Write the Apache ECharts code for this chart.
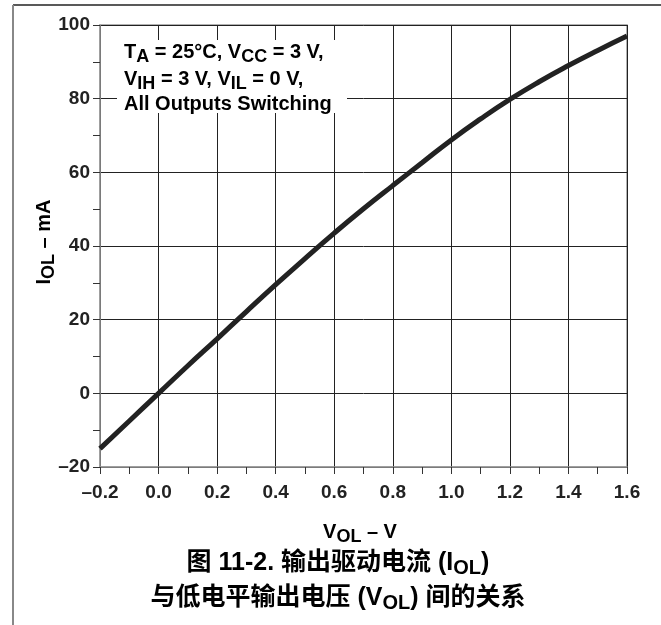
<!DOCTYPE html>
<html>
<head>
<meta charset="utf-8">
<script src="https://cdn.jsdelivr.net/npm/echarts@6/dist/echarts.min.js"></script>
<style>
html,body{margin:0;padding:0;background:#fff;}
#chart{width:661px;height:625px;}
</style>
</head>
<body>
<div id="chart"></div>
<script>
// Data
const vol = [-0.2, -0.1, 0.0, 0.1, 0.2, 0.3, 0.4, 0.5, 0.6, 0.7, 0.8, 0.9, 1.0, 1.1, 1.2, 1.3, 1.4, 1.5, 1.6];
const iol = [-15.0, -7.5, 0.0, 7.5, 14.8, 22.2, 29.5, 36.6, 43.5, 50.1, 56.4, 62.6, 68.8, 74.5, 79.8, 84.6, 89.0, 93.1, 97.0];
const xTicks = {min: -0.2, max: 1.6, step: 0.2};
const yTicks = {min: -20, max: 100, step: 20};

const FONT = '"Liberation Sans", Arial, "Noto Sans CJK SC", sans-serif';
const chart = echarts.init(document.getElementById('chart'));

function dashMinus(s){ return s.replace('-', '\u2013'); }

function richOf(n, s, shift){
  return {
    n: {fontSize: n, lineHeight: n + 3, fontWeight: 'bold', fontFamily: FONT, color: '#222'},
    s: {fontSize: s, lineHeight: s + 3, fontWeight: 'bold', fontFamily: FONT, color: '#222', padding: [shift, 0, 0, 0]}
  };
}

chart.setOption({
  backgroundColor: '#fff',
  animation: false,
  grid: {left: 100, right: 34, top: 25, bottom: 158, show: true, borderColor: '#999', borderWidth: 1.5},
  xAxis: {
    type: 'value', min: xTicks.min, max: xTicks.max, interval: xTicks.step,
    axisLine: {show: true, onZero: false, lineStyle: {color: '#999', width: 1.5}},
    axisTick: {show: true, length: 7, lineStyle: {color: '#333'}},
    minorTick: {show: true, splitNumber: 2, length: 7, lineStyle: {color: '#333'}},
    splitLine: {show: true, lineStyle: {color: '#222', width: 1}},
    axisLabel: {
      margin: 16, color: '#222', fontSize: 19, fontWeight: 'bold', fontFamily: FONT,
      formatter: v => dashMinus((Math.round(v * 10) / 10).toFixed(1))
    }
  },
  yAxis: {
    type: 'value', min: yTicks.min, max: yTicks.max, interval: yTicks.step,
    axisLine: {show: true, onZero: false, lineStyle: {color: '#999', width: 1.5}},
    axisTick: {show: true, length: 7, lineStyle: {color: '#333'}},
    minorTick: {show: true, splitNumber: 2, length: 7, lineStyle: {color: '#333'}},
    splitLine: {show: true, lineStyle: {color: '#222', width: 1}},
    axisLabel: {
      margin: 10, color: '#222', fontSize: 19, fontWeight: 'bold', fontFamily: FONT,
      formatter: v => dashMinus(String(Math.round(v)))
    }
  },
  series: [{
    type: 'line',
    data: vol.map((v, i) => [v, iol[i]]),
    smooth: true,
    showSymbol: false,
    lineStyle: {color: '#222', width: 5},
    z: 3
  }],
  graphic: [
    // outer frame lines
    {type: 'line', shape: {x1: 13, y1: 5, x2: 661, y2: 5}, style: {stroke: '#222', lineWidth: 1.5}},
    {type: 'line', shape: {x1: 13, y1: 5, x2: 13, y2: 625}, style: {stroke: '#888', lineWidth: 2}},
    // annotation box
    {type: 'rect', shape: {x: 117, y: 40, width: 230, height: 73}, style: {fill: '#fff'}, z: 10},
    {type: 'text', x: 124, y: 52, z: 11, style: {
      text: '{n|T}{s|A}{n| = 25°C, V}{s|CC}{n| = 3 V,}', rich: richOf(20, 18, 10), verticalAlign: 'middle', align: 'left'}},
    {type: 'text', x: 124, y: 79, z: 11, style: {
      text: '{n|V}{s|IH}{n| = 3 V, V}{s|IL}{n| = 0 V,}', rich: richOf(20, 18, 10), verticalAlign: 'middle', align: 'left'}},
    {type: 'text', x: 124, y: 104, z: 11, style: {
      text: '{n|All Outputs Switching}', rich: richOf(20, 18, 10), verticalAlign: 'middle', align: 'left'}},
    // y axis title
    {type: 'text', x: 44, y: 242, rotation: Math.PI / 2, z: 11, style: {
      text: '{n|I}{s|OL}{n| \u2013 mA}', rich: richOf(20, 18, 10), verticalAlign: 'middle', align: 'center'}},
    // x axis title
    {type: 'text', x: 360, y: 532, z: 11, style: {
      text: '{n|V}{s|OL}{n| \u2013 V}', rich: richOf(20, 18, 10), verticalAlign: 'middle', align: 'center'}},
    // caption
    {type: 'text', x: 338, y: 563, z: 11, style: {
      text: '{n|图 11-2. 输出驱动电流 (I}{s|OL}{n|)}', rich: richOf(25, 20, 10), verticalAlign: 'middle', align: 'center'}},
    {type: 'text', x: 338, y: 598, z: 11, style: {
      text: '{n|与低电平输出电压 (V}{s|OL}{n|) 间的关系}', rich: richOf(25, 20, 10), verticalAlign: 'middle', align: 'center'}}
  ]
});
</script>
</body>
</html>
